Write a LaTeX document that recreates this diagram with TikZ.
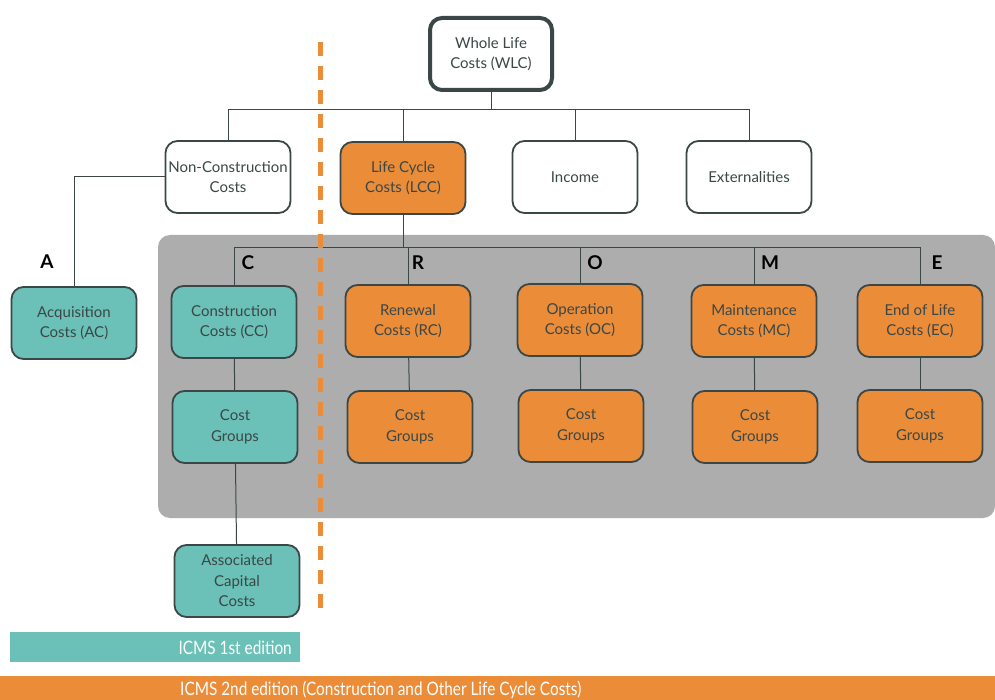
\documentclass[tikz,border=0pt]{standalone}
\usepackage{fontspec}
\setmainfont{Lato}
\newfontfamily\condfont[FakeStretch=0.83]{Lato}
\definecolor{ink}{HTML}{3B4747}
\definecolor{orng}{HTML}{EA8C38}
\definecolor{teal}{HTML}{6BC0B7}
\definecolor{panel}{HTML}{ADADAD}
\tikzset{
  box/.style={draw=ink, line width=1.8pt, rounded corners=12pt, minimum width=125pt, minimum height=72pt, align=center, text=ink, font=\fontsize{15}{20.5}\selectfont, inner sep=2pt},
  obox/.style={box, fill=orng},
  tbox/.style={box, fill=teal},
  wbox/.style={box, fill=white},
  link/.style={draw=ink, line width=1pt},
  letter/.style={font=\fontsize{19}{20}\selectfont\bfseries, text=black, anchor=center},
  edlabel/.style={text=white, font=\condfont\fontsize{18.5}{20}\selectfont, inner sep=0pt},
}
\begin{document}
\begin{tikzpicture}[x=1pt,y=-1pt]
\useasboundingbox (0,0) rectangle (995,700);
\fill[white] (0,0) rectangle (995,700);
% grey panel
\fill[panel, rounded corners=12pt] (158,235) rectangle (995,518);
% nodes
\node[box, line width=4pt, fill=white, minimum width=122pt, minimum height=72pt] (wlc) at (491,54) {Whole Life\\Costs (WLC)};
\node[wbox] (ncc) at (228,177) {Non-Construction\\Costs};
\node[obox] (lcc) at (403,178) {Life Cycle\\Costs (LCC)};
\node[wbox] (inc) at (575,177) {Income};
\node[wbox] (ext) at (749,177) {Externalities};
\node[tbox] (ac) at (74,323) {Acquisition\\Costs (AC)};
\node[tbox] (cc) at (234,322) {Construction\\Costs (CC)};
\node[tbox] (cgc) at (235,427) {Cost\\Groups};
\node[tbox] (acc) at (237,581) {Associated\\Capital\\Costs};
\node[obox] (rc) at (408,321) {Renewal\\Costs (RC)};
\node[obox] (cgr) at (410,427) {Cost\\Groups};
\node[obox] (oc) at (580,320) {Operation\\Costs (OC)};
\node[obox] (cgo) at (581,426) {Cost\\Groups};
\node[obox] (mc) at (754,321) {Maintenance\\Costs (MC)};
\node[obox] (cgm) at (755,427) {Cost\\Groups};
\node[obox] (ec) at (920,321) {End of Life\\Costs (EC)};
\node[obox] (cge) at (920,426) {Cost\\Groups};
% letters
\node[letter] (la) at (47,262) {A};
\node[letter] (lc) at (248,263) {C};
\node[letter] (lr) at (418,263) {R};
\node[letter] (lo) at (595,263) {O};
\node[letter] (lm) at (770,263) {M};
\node[letter] (le) at (937,263) {E};
% connectors
\coordinate (bus) at (0,110);
\coordinate (bus2) at (0,248);
\draw[link] (wlc.south) -- (wlc.south |- bus);
\draw[link] (ncc.north) -- (ncc.north |- bus) -- (ext.north |- bus) -- (ext.north);
\draw[link] (lcc.north) -- (lcc.north |- bus);
\draw[link] (inc.north) -- (inc.north |- bus);
\draw[link] (ncc.west) -| (ac.north);
\draw[link] (lcc.south) -- (lcc.south |- bus2);
\draw[link] (cc.north) -- (cc.north |- bus2) -- (ec.north |- bus2) -- (ec.north);
\draw[link] (rc.north) -- (rc.north |- bus2);
\draw[link] (oc.north) -- (oc.north |- bus2);
\draw[link] (mc.north) -- (mc.north |- bus2);
\draw[link] (cc) -- (cgc);
\draw[link] (cgc) -- (acc);
\draw[link] (rc) -- (cgr);
\draw[link] (oc) -- (cgo);
\draw[link] (mc) -- (cgm);
\draw[link] (ec) -- (cge);
% dashed divider
\coordinate (dtop) at (320,42);
\coordinate (dbot) at (320,616);
\draw[orng, line width=5pt, dash pattern=on 14pt off 10pt] (dtop) -- (dbot);
% edition bars
\fill[teal] (10,632) rectangle (300,662);
\node[anchor=east, edlabel] (ed1) at (292,648) {ICMS 1st edition};
\fill[orng] (0,676) rectangle (995,705);
\node[anchor=west, edlabel] (ed2) at (180,690) {ICMS 2nd edition (Construction and Other Life Cycle Costs)};
\end{tikzpicture}
\end{document}
